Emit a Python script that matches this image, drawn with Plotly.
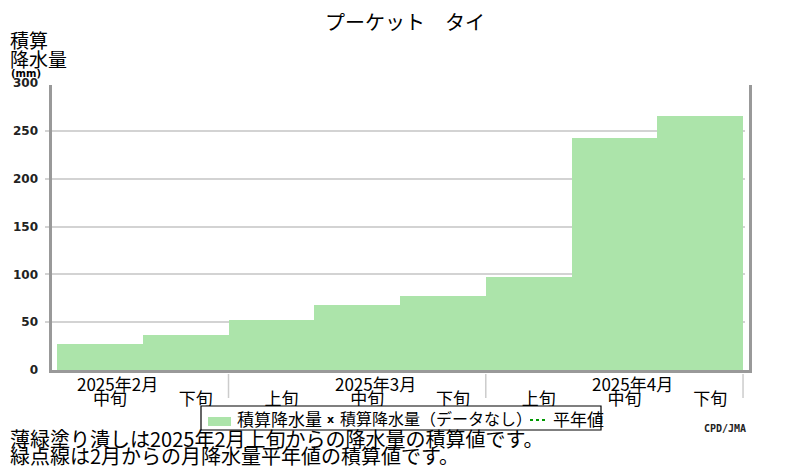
import plotly.graph_objects as go

# data
periods = ["中旬", "下旬", "上旬", "中旬", "下旬", "上旬", "中旬", "下旬"]
months = ["2025年2月", "2025年3月", "2025年4月"]
month_at = [0, 3, 6]          # index of the 中旬 bar in each month
month_breaks = [1.5, 4.5, 7.5]
precip = [27, 37, 52, 68, 77, 97, 243, 265]

jp = "Noto Sans CJK JP"
green = "#ace4aa"
normal_green = "#009900"
frame = "#999999"

fig = go.Figure()
fig.add_trace(go.Bar(x=list(range(len(precip))), y=precip, width=1,
                     marker=dict(color=green, line=dict(width=0)),
                     name="積算降水量", showlegend=False))
# no missing data and no normals drawn for this station
fig.add_trace(go.Scatter(x=[None], y=[None], mode="markers",
                         marker=dict(symbol="x", size=6, color="black"),
                         name="積算降水量（データなし）", showlegend=False))
fig.add_trace(go.Scatter(x=[None], y=[None], mode="lines",
                         line=dict(color=normal_green, dash="dot", width=2),
                         name="平年値", showlegend=False))

# the page body adds 8px, so plot area on screen is x 45..745, y 83..370
off = 8
pw, ph = 700.0, 287.0
def px(x):
    return (x - 45) / pw
def py(y):
    return (370 - y) / ph

fig.update_layout(
    width=800, height=470,
    margin=dict(l=45 - off, r=800 - 745 + off, t=83 - off, b=470 - 370 + off,
                autoexpand=False),
    plot_bgcolor="white", paper_bgcolor="white",
    font=dict(family=jp, color="black"),
    bargap=0,
    title=dict(text="プーケット　タイ", x=(405 - off) / 800.0, xanchor="center",
               y=1 - (23 - off) / 470.0, yanchor="middle",
               font=dict(family=jp, size=20, color="black")),
)

fig.update_xaxes(range=[-0.64, 7.523], showgrid=False, zeroline=False,
                 showline=False, tickmode="array",
                 tickvals=list(range(len(periods))), ticktext=periods,
                 ticks="", ticklabelshift=10, ticklabelstandoff=17,
                 tickfont=dict(family=jp, size=17, color="black"))
fig.update_yaxes(range=[0, 300], dtick=50, showgrid=True, gridcolor="#d3d3d3",
                 gridwidth=1.5, zeroline=False, showline=False, ticks="",
                 ticklabelstandoff=6,
                 tickfont=dict(family="DejaVu Sans", size=12, color="#222222",
                               weight="bold"))

# gray frame lines (left, right, bottom)
fig.add_shape(type="line", xref="paper", yref="paper",
              x0=px(50.5), x1=px(50.5), y0=py(373), y1=py(85),
              line=dict(color=frame, width=3))
fig.add_shape(type="line", xref="paper", yref="paper",
              x0=px(750.5), x1=px(750.5), y0=py(373), y1=py(85),
              line=dict(color=frame, width=3))
fig.add_shape(type="line", xref="paper", yref="paper",
              x0=px(49), x1=px(752), y0=py(371.5), y1=py(371.5),
              line=dict(color=frame, width=3))

# month separators under the axis
for b in month_breaks:
    fig.add_shape(type="line", xref="x", yref="paper", x0=b, x1=b,
                  y0=py(374), y1=py(398),
                  line=dict(color="#cccccc", width=1.5))

for m, i in zip(months, month_at):
    fig.add_annotation(x=i + 0.21, xref="x", y=py(383), yref="paper",
                       text=m, showarrow=False, yanchor="middle",
                       font=dict(family=jp, size=17, color="black"))

# y-axis title
fig.add_annotation(x=px(8), xref="paper", y=py(40), yref="paper",
                   text="積算", showarrow=False, xanchor="left", yanchor="middle",
                   font=dict(family=jp, size=19, color="black"))
fig.add_annotation(x=px(8), xref="paper", y=py(58), yref="paper",
                   text="降水量", showarrow=False, xanchor="left", yanchor="middle",
                   font=dict(family=jp, size=19, color="black"))
fig.add_annotation(x=px(9), xref="paper", y=py(73), yref="paper",
                   text="(mm)", showarrow=False, xanchor="left", yanchor="middle",
                   font=dict(family="DejaVu Sans", size=10, color="black",
                             weight="bold"))

# legend box drawn by hand to keep the compact layout of the original
fig.add_shape(type="rect", xref="paper", yref="paper",
              x0=px(201), x1=px(601), y0=py(430), y1=py(406),
              line=dict(color="black", width=1.2), fillcolor="white")
fig.add_shape(type="rect", xref="paper", yref="paper",
              x0=px(208), x1=px(231), y0=py(426), y1=py(417),
              line=dict(width=0), fillcolor=green)
fig.add_annotation(x=px(235), xref="paper", y=py(418), yref="paper",
                   text="積算降水量", showarrow=False, xanchor="left",
                   yanchor="middle", font=dict(family=jp, size=17, color="black"))
fig.add_annotation(x=px(330), xref="paper", y=py(419), yref="paper",
                   text="x", showarrow=False, xanchor="center",
                   yanchor="middle",
                   font=dict(family="DejaVu Sans", size=11, color="black",
                             weight="bold"))
fig.add_annotation(x=px(338), xref="paper", y=py(418), yref="paper",
                   text="積算降水量（データなし）", showarrow=False, xanchor="left",
                   yanchor="middle", font=dict(family=jp, size=16, color="black"))
fig.add_shape(type="line", xref="paper", yref="paper",
              x0=px(530), x1=px(546), y0=py(420), y1=py(420),
              line=dict(color=normal_green, width=2, dash="dot"))
fig.add_annotation(x=px(551), xref="paper", y=py(418), yref="paper",
                   text="平年値", showarrow=False, xanchor="left",
                   yanchor="middle", font=dict(family=jp, size=17, color="black"))

fig.add_annotation(x=px(748), xref="paper", y=py(428), yref="paper",
                   text="CPD/JMA", showarrow=False, xanchor="right",
                   yanchor="middle",
                   font=dict(family="DejaVu Sans Mono", size=10, color="#222222",
                             weight="bold"))
# footnotes
fig.add_annotation(x=px(8), xref="paper", y=py(438), yref="paper",
                   text="薄緑塗り潰しは2025年2月上旬からの降水量の積算値です。",
                   showarrow=False, xanchor="left", yanchor="middle",
                   font=dict(family=jp, size=20, color="black"))
fig.add_annotation(x=px(8), xref="paper", y=py(455), yref="paper",
                   text="緑点線は2月からの月降水量平年値の積算値です。",
                   showarrow=False, xanchor="left", yanchor="middle",
                   font=dict(family=jp, size=20, color="black"))

fig.write_html("out.html")
